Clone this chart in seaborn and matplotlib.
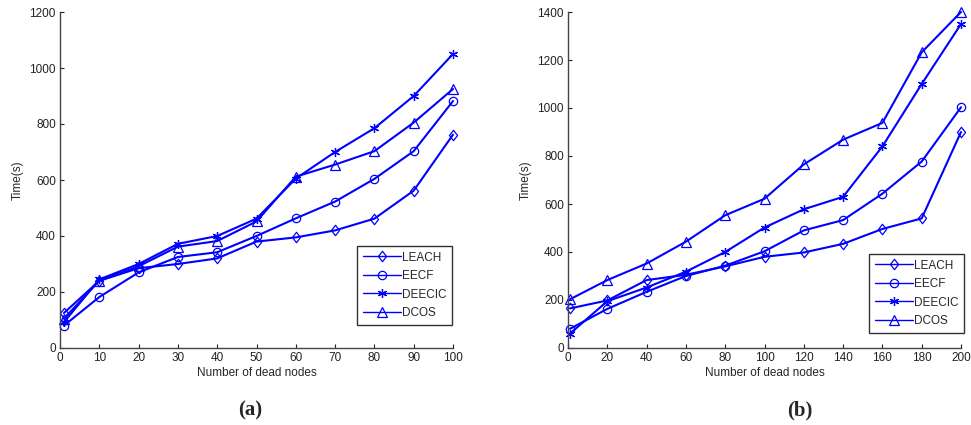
import matplotlib
matplotlib.use("Agg")
import matplotlib.pyplot as plt
import seaborn as sns
import pandas as pd
from matplotlib.path import Path

# ---- data ----
series = ["LEACH", "EECF", "DEECIC", "DCOS"]

x_a = [1, 10, 20, 30, 40, 50, 60, 70, 80, 90, 100]
leach_a = [125, 240, 285, 300, 320, 380, 395, 420, 462, 562, 762]
eecf_a = [80, 182, 270, 325, 342, 400, 463, 523, 604, 703, 882]
deecic_a = [92, 245, 300, 372, 400, 462, 605, 700, 785, 900, 1050]
dcos_a = [105, 240, 292, 362, 382, 452, 612, 655, 703, 805, 925]

x_b = [1, 20, 40, 60, 80, 100, 120, 140, 160, 180, 200]
leach_b = [165, 198, 283, 305, 340, 380, 398, 434, 496, 540, 900]
eecf_b = [80, 163, 234, 300, 343, 403, 490, 533, 643, 777, 1003]
deecic_b = [60, 195, 252, 318, 400, 502, 578, 630, 840, 1100, 1350]
dcos_b = [203, 283, 352, 443, 553, 622, 765, 868, 938, 1232, 1400]

xticks_a = [0, 10, 20, 30, 40, 50, 60, 70, 80, 90, 100]
yticks_a = [0, 200, 400, 600, 800, 1000, 1200]
xticks_b = [0, 20, 40, 60, 80, 100, 120, 140, 160, 180, 200]
yticks_b = [0, 200, 400, 600, 800, 1000, 1200, 1400]

sns.set_style("ticks")
plt.rcParams["font.family"] = ["Liberation Sans", "DejaVu Sans"]

BLUE = "#0000ff"
diamond = Path([(0, 1), (0.78, 0), (0, -1), (-0.78, 0), (0, 1)],
               [Path.MOVETO, Path.LINETO, Path.LINETO, Path.LINETO, Path.CLOSEPOLY])
markers = {"LEACH": diamond, "EECF": "o", "DEECIC": (6, 2, 0), "DCOS": "^"}
msizes = {"LEACH": 7.5, "EECF": 6, "DEECIC": 6.5, "DCOS": 6.5}

fig = plt.figure(figsize=(9.71, 4.25), dpi=100)
W, H = 971, 425


def make_axes(left_px, right_px, top_px, bottom_px):
    return fig.add_axes([left_px / W, (H - bottom_px) / H,
                         (right_px - left_px) / W, (bottom_px - top_px) / H])


ax_a = make_axes(60, 453, 12, 348)
ax_b = make_axes(568, 961, 12, 348)


def draw(ax, x, ys, xticks, yticks, xlim, ylim, legend_anchor):
    for name, y in zip(series, ys):
        df = pd.DataFrame({"x": x, "y": y})
        sns.lineplot(data=df, x="x", y="y", ax=ax, color=BLUE, lw=1.5,
                     marker=markers[name], markersize=msizes[name],
                     markerfacecolor="none", markeredgecolor=BLUE,
                     markeredgewidth=0.9, label=name, clip_on=False)
    ax.set_xlim(*xlim)
    ax.set_ylim(*ylim)
    ax.set_xticks(xticks)
    ax.set_yticks(yticks)
    ax.tick_params(direction="in", length=3, labelsize=8.5, colors="#222222",
                   pad=3)
    for s in ["top", "right"]:
        ax.spines[s].set_visible(False)
    for s in ["left", "bottom"]:
        ax.spines[s].set_color("#444444")
        ax.spines[s].set_linewidth(1.0)
    ax.set_xlabel("Number of dead nodes", fontsize=8.5, labelpad=2)
    ax.set_ylabel("Time(s)", fontsize=8.5, labelpad=4)
    leg = ax.legend(loc="lower left", bbox_to_anchor=legend_anchor,
                    bbox_transform=fig.transFigure, fontsize=8.5,
                    frameon=True, fancybox=False, edgecolor="black",
                    handlelength=3.2, handletextpad=0.1, borderpad=0.5,
                    labelspacing=0.55, borderaxespad=0)
    leg.get_frame().set_linewidth(1.0)
    for line in leg.get_lines():
        line.set_linewidth(1.0)


draw(ax_a, x_a, [leach_a, eecf_a, deecic_a, dcos_a], xticks_a, yticks_a,
     (0, 100), (0, 1200), (357 / W, (H - 325) / H))
draw(ax_b, x_b, [leach_b, eecf_b, deecic_b, dcos_b], xticks_b, yticks_b,
     (0, 200), (0, 1400), (869 / W, (H - 333) / H))

fig.text(250 / W, (H - 410) / H, "(a)", ha="center", va="center",
         fontsize=15, fontweight="bold", family="Liberation Serif")
fig.text(800 / W, (H - 410) / H, "(b)", ha="center", va="center",
         fontsize=15, fontweight="bold", family="Liberation Serif")

fig.savefig("out.png", dpi=100)
